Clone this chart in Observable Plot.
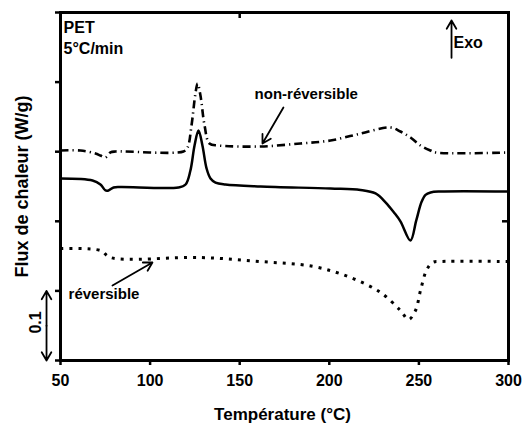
<!DOCTYPE html>
<html>
<head>
<meta charset="utf-8">
<script src="https://cdn.jsdelivr.net/npm/d3@7"></script>
<script src="https://cdn.jsdelivr.net/npm/@observablehq/plot@0.6"></script>
<style>
  html, body { margin: 0; padding: 0; background: #fff; }
</style>
</head>
<body>
<div id="chart"></div>
<script>
// ---- Data ----
// Solid curve: total heat flow
const totalT = [50, 67.9, 72.3, 75.1, 76.8, 79.6, 83.5, 115.8, 119.8, 122.5, 124.8, 127.0, 129.2, 131.5, 133.7, 136.5, 142, 161.6, 200.7, 217.4, 225.8, 231.5, 236, 239.7, 245.3, 248.5, 251.5, 253.7, 256.5, 262.1, 300];
const totalV = [0.2615, 0.2586, 0.2529, 0.2443, 0.2443, 0.2486, 0.2493, 0.2486, 0.2529, 0.2730, 0.3090, 0.3305, 0.3090, 0.2760, 0.2615, 0.2557, 0.2529, 0.2500, 0.2471, 0.2450, 0.2400, 0.2270, 0.2130, 0.2000, 0.1724, 0.2010, 0.2280, 0.2380, 0.2414, 0.2428, 0.2428];

// Dashed curve: non-réversible
const nonRevT = [50, 61.2, 69.5, 72.3, 75.1, 77.9, 80.7, 118.6, 120.9, 123.1, 125.3, 126.5, 128.1, 130.4, 133.1, 138.2, 161.6, 183.9, 200.7, 217.4, 234.2, 239.7, 245.3, 250.9, 256.5, 259.3, 300];
const nonRevV = [0.3017, 0.3017, 0.2974, 0.2945, 0.2917, 0.2989, 0.3003, 0.3003, 0.3060, 0.3376, 0.3836, 0.3980, 0.3807, 0.3376, 0.3118, 0.3089, 0.3075, 0.3118, 0.3161, 0.3260, 0.3348, 0.3290, 0.3204, 0.3089, 0.3017, 0.2989, 0.2989];

// Dotted curve: réversible
const revT = [50, 72.3, 77.9, 128.1, 161.6, 191.2, 211.8, 228.6, 239.7, 244.2, 248.1, 250.9, 254.2, 257.6, 262.1, 300];
const revV = [0.1609, 0.1580, 0.1480, 0.1480, 0.1422, 0.1350, 0.1193, 0.0977, 0.0718, 0.0589, 0.0718, 0.1006, 0.1293, 0.1408, 0.1422, 0.1422];

// Axis ticks
const xTicks = [50, 100, 150, 200, 250, 300];
const yTicks = [0, 0.1, 0.2, 0.3, 0.4, 0.5];
const topTicks = [150];
const rightTicks = [0.2];

// Labels
const xLabel = "Température (°C)";
const yLabel = "Flux de chaleur (W/g)";
const titleLines = [
  {t: 51.7, v: 0.4777, text: "PET"},
  {t: 51.7, v: 0.4483, text: "5°C/min"},
  {t: 269.3, v: 0.4562, text: "Exo"}
];
const annotations = [
  {t: 158.3, v: 0.3820, text: "non-réversible"},
  {t: 54.5, v: 0.0948, text: "réversible"}
];
const pointers = [
  {t1: 268.2, v1: 0.435, t2: 268.2, v2: 0.4885},   // Exo
  {t1: 174.4, v1: 0.3635, t2: 162.7, v2: 0.3118},  // non-réversible
  {t1: 79.0, v1: 0.1078, t2: 101.3, v2: 0.1408}    // réversible
];
const scaleBar = {t: 42.2, from: 0.05, top: 0.1, bottom: 0, label: "0.1", labelT: 36.0, labelV: 0.0546};

const rows = (T, V) => T.map((t, i) => ({t, v: V[i]}));
const total = rows(totalT, totalV);
const nonRev = rows(nonRevT, nonRevV);
const rev = rows(revT, revV);

const chart = Plot.plot({
  width: 525,
  height: 430,
  marginLeft: 60,
  marginRight: 17,
  marginTop: 12,
  marginBottom: 70,
  style: {fontFamily: "'Liberation Sans', Arial, sans-serif", fontWeight: "bold", fontSize: "16px", color: "#000", background: "#fff"},
  x: {domain: [50, 300]},
  y: {domain: [0, 0.5]},
  marks: [
    Plot.axisX(xTicks, {tickSize: 5, tickPadding: 9, strokeWidth: 2.5, fontSize: 16, label: null}),
    Plot.axisY(yTicks, {tickSize: 5, strokeWidth: 2.5, tickFormat: () => "", label: null}),
    Plot.ruleX(topTicks, {y1: 0.5, y2: 0.5 - 6 / 696, strokeWidth: 2.5}),
    Plot.ruleY(rightTicks, {x1: 300, x2: 300 - 6 / 1.792, strokeWidth: 2.5}),
    Plot.line(total, {x: "t", y: "v", curve: "catmull-rom", strokeWidth: 2.5}),
    Plot.line(nonRev, {x: "t", y: "v", curve: "catmull-rom", strokeWidth: 2.6, strokeLinecap: "butt", strokeDasharray: "8,4,1.2,4"}),
    Plot.line(rev, {x: "t", y: "v", curve: "catmull-rom", strokeWidth: 3, strokeLinecap: "butt", strokeDasharray: "3,6"}),
    Plot.frame({strokeWidth: 3}),
    Plot.text(titleLines, {x: "t", y: "v", text: "text", textAnchor: "start", lineAnchor: "middle", fontSize: 16}),
    Plot.text(annotations, {x: "t", y: "v", text: "text", textAnchor: "start", lineAnchor: "middle", fontSize: 15}),
    Plot.arrow(pointers, {x1: "t1", y1: "v1", x2: "t2", y2: "v2", strokeWidth: 1.8, headLength: 8}),
    Plot.arrow([scaleBar], {x1: "t", y1: "from", x2: "t", y2: "top", strokeWidth: 1.8, headLength: 8}),
    Plot.arrow([scaleBar], {x1: "t", y1: "from", x2: "t", y2: "bottom", strokeWidth: 1.8, headLength: 8}),
    Plot.text([scaleBar], {x: "labelT", y: "labelV", text: "label", rotate: -90, fontSize: 16, lineAnchor: "middle"}),
    Plot.text([yLabel], {frameAnchor: "left", dx: -38, rotate: -90, fontSize: 18, textAnchor: "middle", lineAnchor: "middle"}),
    Plot.text([xLabel], {frameAnchor: "bottom", dy: 54, dx: -2, fontSize: 17, lineAnchor: "middle"})
  ]
});
document.getElementById("chart").appendChild(chart);
</script>
</body>
</html>
